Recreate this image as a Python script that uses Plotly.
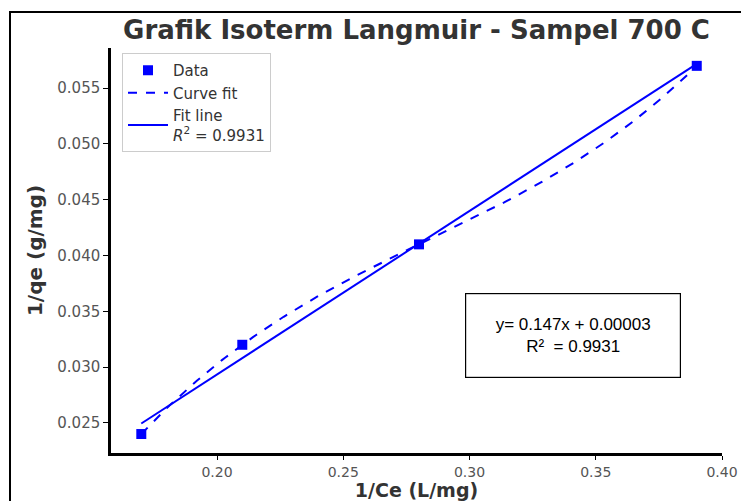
import numpy as np
import plotly.graph_objects as go

# Data
x_data = [0.17, 0.21, 0.28, 0.39]
y_data = [0.024, 0.032, 0.041, 0.057]
x_ticks = [0.20, 0.25, 0.30, 0.35, 0.40]
y_ticks = [0.025, 0.030, 0.035, 0.040, 0.045, 0.050, 0.055]
r2_text = "0.9931"
eq_text = "y= 0.147x + 0.00003"

# Fits computed from data
lin = np.polyfit(x_data, y_data, 1)
cub = np.polyfit(x_data, y_data, 3)
x_line = np.array([min(x_data), max(x_data)])
x_curve = np.linspace(min(x_data), max(x_data), 200)

blue = "#0000ff"
fig = go.Figure()
fig.add_trace(go.Scatter(x=x_data, y=y_data, mode="markers", name="Data",
                         marker=dict(symbol="square", size=10, color=blue)))
fig.add_trace(go.Scatter(x=x_curve, y=np.polyval(cub, x_curve), mode="lines", name="Curve fit",
                         line=dict(color=blue, width=2, dash="dash")))
fig.add_trace(go.Scatter(x=x_line, y=np.polyval(lin, x_line), mode="lines",
                         name="Fit line<br><i>R</i><sup>2</sup> = " + r2_text,
                         line=dict(color=blue, width=2)))

L, R, T, B = 111, 19, 48, 48
W, H = 741, 501
pw, ph = W - L - R, H - T - B

def px(xp):
    return (xp - L) / pw

def py(yp):
    return (H - B - yp) / ph

fig.update_layout(
    width=W, height=H,
    margin=dict(l=L, r=R, t=T, b=B),
    paper_bgcolor="white", plot_bgcolor="white",
    font=dict(family="DejaVu Sans", color="#444"),
    title=dict(text="<b>Grafik Isoterm Langmuir - Sampel 700 C</b>",
               font=dict(family="DejaVu Sans", size=26, color="#333"),
               x=0.5, xref="paper", xanchor="center",
               y=1 - 30 / H, yref="container", yanchor="middle"),
    showlegend=True,
    legend=dict(x=px(122), y=py(53), xanchor="left", yanchor="top",
                bgcolor="white", bordercolor="#cccccc", borderwidth=1,
                font=dict(family="DejaVu Sans", size=15, color="#333"),
                tracegroupgap=0, itemwidth=40),
    xaxis=dict(range=[0.158, 0.40], tickvals=x_ticks, tickformat=".2f",
               showgrid=False, zeroline=False, showline=True, linecolor="black",
               linewidth=2.5, ticks="outside", ticklen=4, tickcolor="black",
               tickfont=dict(size=14, color="#555"), automargin=False,
               title=dict(text="<b>1/Ce (L/mg)</b>", font=dict(size=19, color="#333"), standoff=2)),
    yaxis=dict(range=[0.0223, 0.0586], tickvals=y_ticks, tickformat=".3f",
               showgrid=False, zeroline=False, showline=True, linecolor="black",
               linewidth=2.5, ticks="outside", ticklen=5, tickcolor="black",
               tickfont=dict(size=15, color="#555"), automargin=False,
               title=dict(text="<b>1/qe (g/mg)</b>", font=dict(size=20, color="#333"), standoff=10)),
)

fig.add_annotation(xref="paper", yref="paper", x=px(573), y=py(335.5),
                   xanchor="center", yanchor="middle",
                   text=eq_text + "<br>R²  = " + r2_text,
                   showarrow=False, align="center",
                   font=dict(family="Liberation Sans", size=17, color="black"),
                   bordercolor="black", borderwidth=1.2, borderpad=4,
                   bgcolor="white", width=206, height=75)

# outer frame (top and left edges only)
fig.add_shape(type="line", xref="paper", yref="paper",
              x0=px(9), x1=px(745), y0=py(12), y1=py(12),
              line=dict(color="black", width=2))
fig.add_shape(type="line", xref="paper", yref="paper",
              x0=px(10), x1=px(10), y0=py(11), y1=py(505),
              line=dict(color="black", width=2))

fig.write_html("out.html")
